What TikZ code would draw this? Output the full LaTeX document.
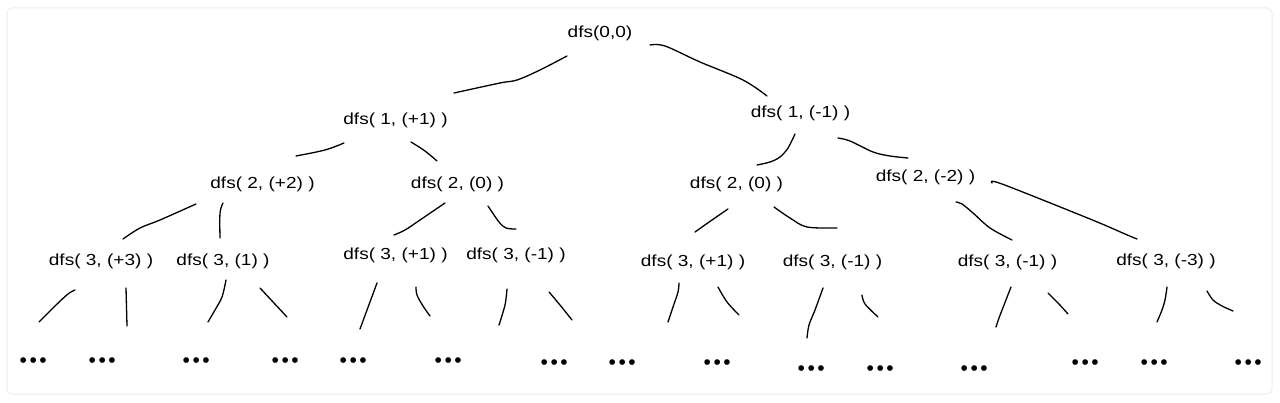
\documentclass[tikz,border=0pt]{standalone}
\usepackage{fontspec}
\setmainfont{Liberation Sans}[FakeStretch=1.19]
\newfontfamily\dotfont{Liberation Sans}[LetterSpace=12]
\begin{document}
\begin{tikzpicture}[x=1pt,y=-1pt,
  lbl/.style={inner sep=0pt,font=\fontsize{16}{18}\selectfont},
  dots/.style={inner sep=0pt,font=\dotfont\fontsize{21}{22}\selectfont},
  stroke/.style={line width=1.3pt,line cap=round,line join=round,smooth,tension=0.55}]
\useasboundingbox (0,0) rectangle (1280,403);
\draw[draw=black!7,line width=1pt,rounded corners=5pt] (7,8) rectangle (1272,394);
% nodes
\node[lbl] (root) at (600,33) {dfs(0,0)};
\node[lbl] (a) at (395.5,120) {dfs( 1, (+1) )};
\node[lbl] (b) at (800.5,113) {dfs( 1, (-1) )};
\node[lbl] (aa) at (262.5,184) {dfs( 2, (+2) )};
\node[lbl] (ab) at (457.5,184) {dfs( 2, (0) )};
\node[lbl] (ba) at (736.5,184) {dfs( 2, (0) )};
\node[lbl] (bb) at (925.5,177) {dfs( 2, (-2) )};
\node[lbl] (aaa) at (101,261) {dfs( 3, (+3) )};
\node[lbl] (aab) at (223,261) {dfs( 3, (1) )};
\node[lbl] (aba) at (395.5,255) {dfs( 3, (+1) )};
\node[lbl] (abb) at (516,255) {dfs( 3, (-1) )};
\node[lbl] (baa) at (693,262) {dfs( 3, (+1) )};
\node[lbl] (bab) at (832.5,262) {dfs( 3, (-1) )};
\node[lbl] (bba) at (1007.5,262) {dfs( 3, (-1) )};
\node[lbl] (bbb) at (1166,261) {dfs( 3, (-3) )};
% dots
\foreach \n/\x/\y in {1/32/360,2/101/360,3/195/360,4/284/360,5/352/360,6/447/360,7/553/362,8/621/362,9/716/362,10/810/368,11/879/368,12/973/368,13/1084/362,14/1153/362,15/1247/362}
  \node[dots] (d\n) at (\x+1.2,\y+3) {•••};
% level 0 -> 1
\draw[stroke] plot coordinates {(567,56)(540,70)(517,80)(500,83)(454,93)};
\draw[stroke] plot coordinates {(650,45)(665,46)(700,62)(743,80)(767,96)};
% level 1 -> 2
\draw[stroke] plot coordinates {(344,143)(325,150)(296,156)};
\draw[stroke] plot coordinates {(411,142)(425,151)(437,161)};
\draw[stroke] plot coordinates {(795,134)(788,148)(780,157)(770,162)(757,165)};
\draw[stroke] plot coordinates {(838,138)(850,141)(873,152)(890,156)(908,158)};
% level 2 -> 3
\draw[stroke] plot coordinates {(196,204)(160,220)(140,228)(123,239)};
\draw[stroke] plot coordinates {(223,203)(220,213)(220,238)};
\draw[stroke] plot coordinates {(445,203)(420,220)(405,230)(394,235)};
\draw[stroke] plot coordinates {(488,206)(499,222)(506,228)(516,229)};
\draw[stroke] plot coordinates {(728,209)(712,220)(695,232)};
\draw[stroke] plot coordinates {(774,207)(790,218)(807,227)(837,228)};
\draw[stroke] plot coordinates {(956,202)(962,204)(973,213)(990,228)(1012,240)};
\draw[stroke] plot coordinates {(992,183)(1002,184)(1090,219)(1125,234)(1137,239)};
% level 3 -> dots
\draw[stroke] plot coordinates {(75,290)(68,294)(55,306)(39,322)};
\draw[stroke] plot coordinates {(126,288)(127,326)};
\draw[stroke] plot coordinates {(226,280)(222,297)(215,310)(208,322)};
\draw[stroke] plot coordinates {(260,288)(287,317)};
\draw[stroke] plot coordinates {(377,283)(360,329)};
\draw[stroke] plot coordinates {(416,287)(417,295)(423,306)(430,316)};
\draw[stroke] plot coordinates {(507,289)(505,305)(499,325)};
\draw[stroke] plot coordinates {(549,292)(560,305)(572,320)};
\draw[stroke] plot coordinates {(679,283)(678,292)(673,307)(668,322)};
\draw[stroke] plot coordinates {(718,287)(727,302)(739,315)};
\draw[stroke] plot coordinates {(823,288)(815,310)(809,325)(807,338)};
\draw[stroke] plot coordinates {(862,295)(865,304)(878,317)};
\draw[stroke] plot coordinates {(1011,287)(1004,305)(999,318)(996,327)};
\draw[stroke] plot coordinates {(1048,293)(1058,303)(1068,314)};
\draw[stroke] plot coordinates {(1167,287)(1165,300)(1162,310)(1157,322)};
\draw[stroke] plot coordinates {(1207,291)(1213,300)(1222,306)(1233,311)};
\end{tikzpicture}
\end{document}
